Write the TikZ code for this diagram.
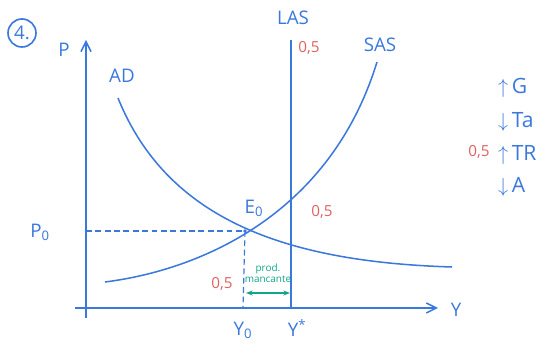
\documentclass[tikz,border=0pt]{standalone}
\usepackage{fontspec}
\setmainfont{Open Sans}
\usepackage{tikz}
\usetikzlibrary{arrows.meta, positioning}
\definecolor{ink}{HTML}{3A78DC}
\definecolor{mark}{HTML}{E06060}
\definecolor{gap}{HTML}{12A58A}

\begin{document}
\begin{tikzpicture}[
    x=0.03cm, y=-0.03cm,
    every node/.style={font=\fontsize{16}{18}\selectfont, text=ink},
    line/.style={draw=ink, line width=1.3pt},
    axis/.style={line, -{Straight Barb[length=3mm, width=3mm]}},
    guide/.style={draw=ink, line width=1pt, dash pattern=on 5pt off 3pt},
    score/.style={font=\fontsize{13}{15}\selectfont, text=mark},
    policy/.style={font=\fontsize{18}{20}\selectfont, anchor=west}
]
\useasboundingbox (0,0) rectangle (548,346);

% axes
\coordinate (orig) at (86,308);
\coordinate (ptop) at (86,40);
\coordinate (yend) at (438,308);
\draw[axis] (86,318) -- (ptop);
\draw[axis] (75,308) -- (yend);
\node (plab) at (64,50) {P};
\node (ylab) at (456,310) {Y};

% exercise number
\node[draw=ink, line width=1.4pt, circle, minimum size=0.84cm, inner sep=0pt] (num) at (22,33) {4.};

% curves
\coordinate (ad1) at (118,98);
\coordinate (ad2) at (452,267);
\draw[line] (ad1) .. controls (168,222) and (290,262) .. (ad2);
\node (adlab) at (122,76) {AD};

\coordinate (sas1) at (105,282);
\coordinate (sas2) at (377,62);
\draw[line] (sas1) .. controls (200,270) and (330,215) .. (sas2);
\node (saslab) at (380,45) {SAS};

\coordinate (las1) at (291,40);
\coordinate (las2) at (291,308);
\draw[line] (las1) -- (las2);
\node (laslab) at (293,18) {LAS};

% equilibrium
\coordinate (E0) at (245,231);
\coordinate (p0) at (86,231);
\coordinate (y0) at (243,308);
\fill[ink] (E0) circle (1.6pt);
\draw[guide] (p0) -- (E0);
\draw[guide] (E0) -- (y0);
\node (elab) at (254,208) {E\textsubscript{0}};
\node (p0lab) at (40,232) {P\textsubscript{0}};
\node (y0lab) at (243,330) {Y\textsubscript{0}};
\node (ystar) at (297,328) {Y\textsuperscript{*}};

% output gap
\coordinate (g1) at (246,293);
\coordinate (g2) at (290,293);
\draw[gap, line width=1pt, {Stealth[length=2mm]}-{Stealth[length=2mm]}] (g1) -- (g2);
\node[text=gap, font=\fontsize{8.5}{9.5}\selectfont, align=center] (gaplab) at (268,273) {prod.\\mancante};

% scores
\node[score] (s1) at (309,48) {0,5};
\node[score] (s2) at (222,284) {0,5};
\node[score] (s3) at (322,212) {0,5};
\node[score] (s4) at (479,152) {0,5};

% policy
\node[policy] (pg) at (494,88) {$\uparrow$\,G};
\node[policy] (pt) at (494,122) {$\downarrow$\,Ta};
\node[policy] (ptr) at (494,155) {$\uparrow$\,TR};
\node[policy] (pa) at (494,187) {$\downarrow$\,A};

\end{tikzpicture}
\end{document}
